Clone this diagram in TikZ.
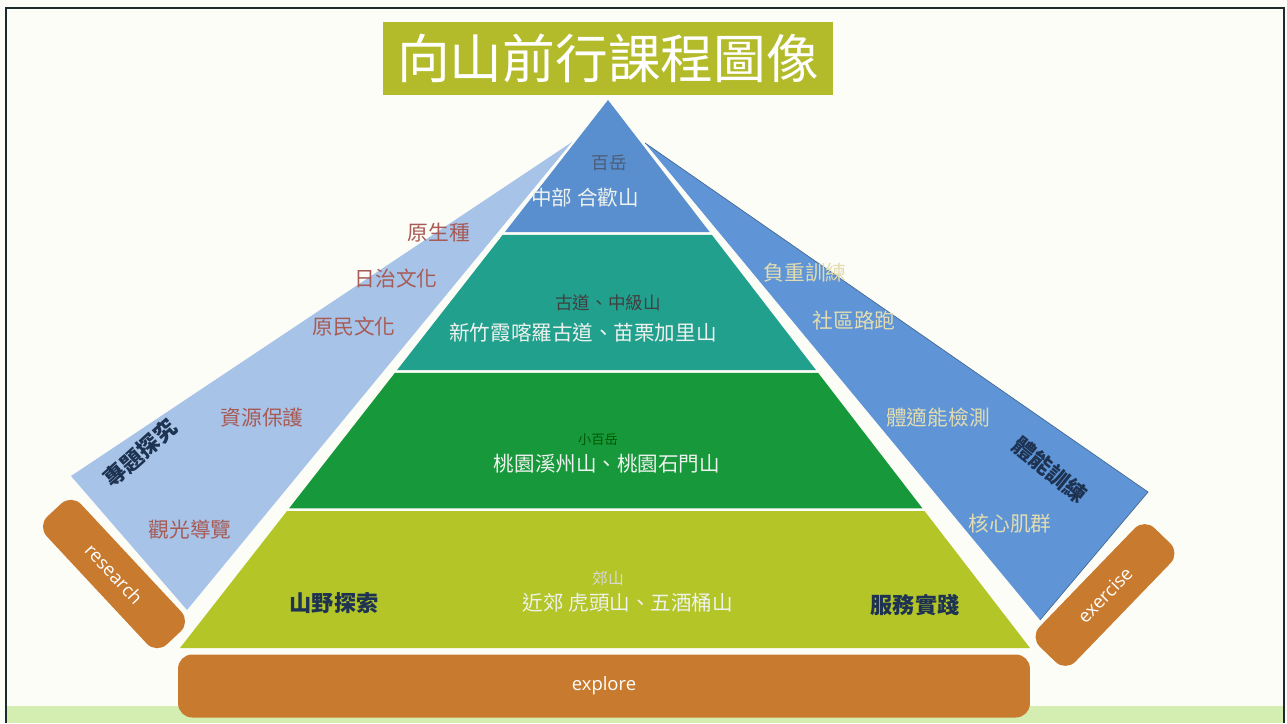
\documentclass[tikz,border=0pt]{standalone}
\usepackage{fontspec}
\setmainfont{Open Sans}
\newfontfamily\cjk{Noto Sans CJK TC}
\usetikzlibrary{calc}

\definecolor{paper}{HTML}{FDFDF8}
\definecolor{framedark}{HTML}{1C2B2B}
\definecolor{stripgreen}{HTML}{D4EDB0}
\definecolor{titlegreen}{HTML}{B3BB2A}
\definecolor{peakblue}{HTML}{5A8FCF}
\definecolor{midteal}{HTML}{22A08E}
\definecolor{hillgreen}{HTML}{17983B}
\definecolor{baseolive}{HTML}{B4C527}
\definecolor{boxorange}{HTML}{C87A2E}
\definecolor{wingleft}{HTML}{A7C4E8}
\definecolor{wingright}{HTML}{5F95D6}
\definecolor{notered}{HTML}{A85A55}
\definecolor{notepale}{HTML}{E2DCB0}
\definecolor{labeldark}{HTML}{1E3352}
\definecolor{levelwhite}{HTML}{EEF2EE}

\begin{document}
\begin{tikzpicture}[x=0.02cm, y=-0.02cm,
    levelname/.style={font=\cjk\fontsize{10}{12}\selectfont, inner sep=0pt},
    levelmt/.style={font=\cjk\fontsize{11.7}{14}\selectfont, text=levelwhite, inner sep=0pt},
    note/.style={font=\cjk\fontsize{11.8}{14}\selectfont, inner sep=0pt},
    mainlabel/.style={font=\cjk\bfseries\fontsize{12.6}{15}\selectfont, text=labeldark, inner sep=0pt},
    basebox/.style={fill=boxorange, rounded corners=8pt, text=white, inner sep=0pt,
      font=\fontsize{10.5}{12}\selectfont}]
    \useasboundingbox (0,0) rectangle (1287,723);
    \fill[paper] (0,0) rectangle (1287,723);
    \fill[stripgreen] (7,706) rectangle (1283,723);
    \draw[framedark, line width=1.2pt] (6,723) -- (6,8) -- (1284,8) -- (1284,723);

    % side wings
    \fill[wingleft] (572,142) -- (71,476) -- (187,610) -- cycle;
    \fill[wingright] (645,143) -- (1148,492) -- (1040,620) -- cycle;
    \draw[wingright!70!black, line width=0.4pt] (645,143) -- (1148,492) -- (1040,620);

    % pyramid levels
    \coordinate (apex) at (608,100);
    \coordinate (bl) at (180,648);
    \coordinate (br) at (1030,648);
    \foreach \tp/\bt/\col in {0/0.241/peakblue, 0.246/0.493/midteal,
        0.498/0.745/hillgreen, 0.75/1/baseolive}
      \fill[\col] ($(apex)!\tp!(bl)$) -- ($(apex)!\bt!(bl)$)
        -- ($(apex)!\bt!(br)$) -- ($(apex)!\tp!(br)$) -- cycle;

    % title
    \node[fill=titlegreen, text=white, minimum width=9cm, minimum height=1.46cm,
      font=\cjk\fontsize{30}{32}\selectfont] (title) at (608,58.5) {向山前行課程圖像};

    % orange bars
    \node[basebox, minimum width=17.04cm, minimum height=1.26cm] (explore) at (604,686) {explore};
    \node[basebox, minimum width=3.5cm, minimum height=0.94cm, rotate=-47] (research) at (114,574) {research};
    \node[basebox, minimum width=3.3cm, minimum height=1cm, rotate=46] (exercise) at (1105,595) {exercise};

    % level texts
    \node[levelname, text=labeldark!80] (peak) at (609,163) {百岳};
    \node[levelmt] (peakmt) at (585,198) {中部 合歡山};
    \node[levelname, text=black!75] (trail) at (608,303) {古道、中級山};
    \node[levelmt] (trailmt) at (583,333) {新竹霞喀羅古道、苗栗加里山};
    \node[levelname, text=green!35!black, font=\cjk\fontsize{7.5}{9}\selectfont] (small) at (598,440) {小百岳};
    \node[levelmt] (smallmt) at (607,464) {桃園溪州山、桃園石門山};
    \node[levelname, text=white!85!black, font=\cjk\fontsize{9}{10}\selectfont] (hill) at (608,578) {郊山};
    \node[levelmt] (hillmt) at (628,603) {近郊 虎頭山、五酒桶山};
    \node[mainlabel] (wild) at (334,603) {山野探索};
    \node[mainlabel] (serve) at (915,605) {服務實踐};

    % left wing
    \node[note, text=notered] (native) at (439,233) {原生種};
    \node[note, text=notered] (colonial) at (396,279) {日治文化};
    \node[note, text=notered] (tribe) at (354,327) {原民文化};
    \node[note, text=notered] (protect) at (262,418) {資源保護};
    \node[note, text=notered] (guide) at (190,530) {觀光導覽};
    \node[mainlabel, rotate=42] (study) at (140,453) {專題探究};

    % right wing
    \node[note, text=notepale] (load) at (805,273) {負重訓練};
    \node[note, text=notepale] (run) at (854,321) {社區路跑};
    \node[note, text=notepale] (test) at (938,418) {體適能檢測};
    \node[note, text=notepale] (core) at (1010,524) {核心肌群};
    \node[mainlabel, rotate=-39] (fitness) at (1050,470) {體能訓練};
\end{tikzpicture}
\end{document}
